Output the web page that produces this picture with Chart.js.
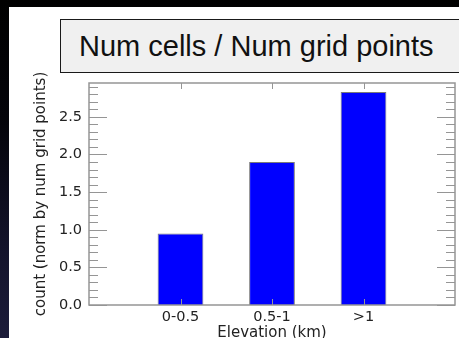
<!DOCTYPE html>
<html>
<head>
<meta charset="utf-8">
<script src="https://cdn.jsdelivr.net/npm/chart.js@4"></script>
<style>
  html, body {
    margin: 0;
    padding: 0;
    width: 459px;
    height: 338px;
    overflow: hidden;
    background: linear-gradient(to bottom, #000 0%, #04040a 35%, #14142c 75%, #1c1c3a 100%);
  }
  .panel {
    position: absolute;
    left: 9px;
    top: 7px;
    width: 450px;
    height: 331px;
    background: #fff;
  }
  .title-box {
    position: absolute;
    left: 60px;
    top: 19px;
    width: 420px;
    height: 52px;
    background: #f0f0f0;
    border: 1.5px solid #1a1a1a;
    font-family: "Liberation Sans", Arial, sans-serif;
    font-size: 29px;
    line-height: 52px;
    padding-left: 18px;
    color: #111;
    box-sizing: content-box;
  }
</style>
</head>
<body>
<div class="panel">
  <canvas id="elevChart" width="450" height="331"></canvas>
</div>
<div class="title-box">Num cells / Num grid points</div>
<script>
  const categories = ["0-0.5", "0.5-1", ">1"];
  const counts = [0.95, 1.9, 2.83];
  const yTicks = [0, 0.5, 1, 1.5, 2, 2.5];
  const yMax = 2.95;

  // empty slots at both ends leave a full bar spacing before and after
  const labels = ["", ...categories, ""];
  const values = [null, ...counts, null];

  const axisColor = "#959595";

  const frameTicks = {
    id: "frameTicks",
    afterDatasetsDraw(chart) {
      const { ctx, chartArea: a, scales } = chart;
      const x = scales.x;
      const y = scales.y;
      ctx.save();
      ctx.strokeStyle = axisColor;
      ctx.lineWidth = 1;

      // minor ticks every 0.1, major ones on the labelled values
      for (let i = 0; i <= Math.floor(yMax * 10 + 1e-6); i++) {
        const v = i / 10;
        const py = Math.round(y.getPixelForValue(v)) + 0.5;
        const len = yTicks.some((t) => Math.abs(t - v) < 1e-6) ? 18 : 9;
        ctx.beginPath();
        ctx.moveTo(a.left, py);
        ctx.lineTo(a.left + len, py);
        ctx.moveTo(a.right, py);
        ctx.lineTo(a.right - len, py);
        ctx.stroke();
      }

      categories.forEach((_c, i) => {
        const px = Math.round(x.getPixelForValue(i + 1)) + 0.5;
        ctx.beginPath();
        ctx.moveTo(px, a.bottom);
        ctx.lineTo(px, a.bottom - 6);
        ctx.moveTo(px, a.top);
        ctx.lineTo(px, a.top + 6);
        ctx.stroke();
      });

      ctx.lineWidth = 1.5;
      ctx.strokeRect(a.left, a.top, a.right - a.left, a.bottom - a.top);
      ctx.restore();
    },
  };

  Chart.defaults.font.family = "'DejaVu Sans', sans-serif";
  Chart.defaults.color = "#222";

  new Chart(document.getElementById("elevChart"), {
    type: "bar",
    data: {
      labels: labels,
      datasets: [
        {
          data: values,
          backgroundColor: "#0000ff",
          borderColor: "#7a7a7a",
          borderWidth: 1,
          categoryPercentage: 1,
          barPercentage: 0.5,
        },
      ],
    },
    options: {
      responsive: false,
      animation: false,
      layout: {
        padding: { top: 76, right: 1, left: 0, bottom: 0 },
      },
      plugins: {
        legend: { display: false },
        tooltip: { enabled: false },
      },
      scales: {
        x: {
          type: "category",
          offset: false,
          grid: { display: false, drawTicks: false },
          border: { display: false },
          ticks: {
            autoSkip: false,
            maxRotation: 0,
            padding: 4,
            font: { size: 14.5 },
          },
          title: {
            display: true,
            text: "Elevation (km)",
            font: { size: 15, lineHeight: 0.6 },
            padding: 0,
          },
          afterFit(scale) {
            scale.height = 33;
          },
        },
        y: {
          min: 0,
          max: yMax,
          grid: { display: false, drawTicks: false },
          border: { display: false },
          afterBuildTicks(scale) {
            scale.ticks = yTicks.map((v) => ({ value: v }));
          },
          ticks: {
            padding: 7,
            font: { size: 14.5 },
            callback: (v) => Number(v).toFixed(1),
          },
          title: {
            display: true,
            text: "count (norm by num grid points)",
            font: { size: 15, lineHeight: 1 },
            padding: { top: 25, bottom: 0 },
          },
          afterFit(scale) {
            scale.width = 80;
          },
        },
      },
    },
    plugins: [frameTicks],
  });
</script>
</body>
</html>
